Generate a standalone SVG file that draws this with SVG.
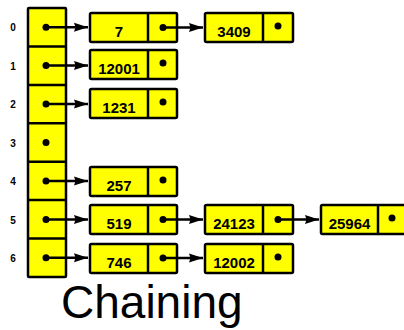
<svg xmlns="http://www.w3.org/2000/svg" width="404" height="330" viewBox="0 0 404 330">
<defs>
<style>
.cell{fill:#ffff00;stroke:#000;stroke-width:2.5}
.div{stroke:#000;stroke-width:2.5}
.dot{fill:#000}
.idx{font-family:"Liberation Sans",Arial,sans-serif;font-weight:bold;font-size:10px;text-anchor:middle;fill:#000}
.val{font-family:"Liberation Sans",Arial,sans-serif;font-weight:bold;font-size:15px;text-anchor:middle;fill:#000}
.link{stroke:#000;stroke-width:2.5;fill:none;marker-end:url(#ah)}
.title{font-family:"Liberation Sans",Arial,sans-serif;font-size:46px;fill:#000}
</style>
<marker id="ah" viewBox="0 0 14 10" refX="14" refY="5" markerWidth="14" markerHeight="10" markerUnits="userSpaceOnUse" orient="auto">
<path d="M0,0.5 L14,5 L0,9.5 L1.5,5 Z" fill="#000"/>
</marker>
</defs>

<g id="array">
<rect class="cell" x="28" y="8" width="38" height="269" rx="1"/>
<line class="div" x1="28" y1="46.4" x2="66" y2="46.4"/>
<line class="div" x1="28" y1="84.9" x2="66" y2="84.9"/>
<line class="div" x1="28" y1="123.3" x2="66" y2="123.3"/>
<line class="div" x1="28" y1="161.7" x2="66" y2="161.7"/>
<line class="div" x1="28" y1="200.1" x2="66" y2="200.1"/>
<line class="div" x1="28" y1="238.6" x2="66" y2="238.6"/>
<circle class="dot" cx="46" cy="27.2" r="3.5"/>
<circle class="dot" cx="46" cy="65.6" r="3.5"/>
<circle class="dot" cx="46" cy="104.1" r="3.5"/>
<circle class="dot" cx="46" cy="142.5" r="3.5"/>
<circle class="dot" cx="46" cy="180.9" r="3.5"/>
<circle class="dot" cx="46" cy="219.4" r="3.5"/>
<circle class="dot" cx="46" cy="257.8" r="3.5"/>
<text class="idx" x="13" y="31">0</text>
<text class="idx" x="13" y="69.5">1</text>
<text class="idx" x="13" y="108">2</text>
<text class="idx" x="13" y="146.5">3</text>
<text class="idx" x="13" y="185">4</text>
<text class="idx" x="13" y="223.5">5</text>
<text class="idx" x="13" y="262">6</text>
</g>

<g id="n0a">
<rect class="cell" x="90" y="13" width="87" height="29" rx="1.5"/>
<line class="div" x1="148" y1="13" x2="148" y2="42"/>
<text class="val" x="119" y="36.5">7</text>
<circle class="dot" cx="163" cy="27.5" r="3.5"/>
</g>
<g id="n0b">
<rect class="cell" x="205" y="13" width="88" height="29" rx="1.5"/>
<line class="div" x1="263" y1="13" x2="263" y2="42"/>
<text class="val" x="234" y="36.5">3409</text>
<circle class="dot" cx="278" cy="26" r="3.5"/>
</g>
<g id="n1a">
<rect class="cell" x="90" y="50" width="87" height="29" rx="1.5"/>
<line class="div" x1="148" y1="50" x2="148" y2="79"/>
<text class="val" x="119" y="73.5">12001</text>
<circle class="dot" cx="163" cy="63" r="3.5"/>
</g>
<g id="n2a">
<rect class="cell" x="90" y="89" width="87" height="29" rx="1.5"/>
<line class="div" x1="148" y1="89" x2="148" y2="118"/>
<text class="val" x="119" y="112.5">1231</text>
<circle class="dot" cx="163" cy="102" r="3.5"/>
</g>
<g id="n4a">
<rect class="cell" x="90" y="167" width="87" height="29" rx="1.5"/>
<line class="div" x1="148" y1="167" x2="148" y2="196"/>
<text class="val" x="119" y="190.5">257</text>
<circle class="dot" cx="163" cy="180" r="3.5"/>
</g>
<g id="n5a">
<rect class="cell" x="90" y="205" width="87" height="29" rx="1.5"/>
<line class="div" x1="148" y1="205" x2="148" y2="234"/>
<text class="val" x="119" y="228.5">519</text>
<circle class="dot" cx="163" cy="219.5" r="3.5"/>
</g>
<g id="n5b">
<rect class="cell" x="205" y="205" width="88" height="29" rx="1.5"/>
<line class="div" x1="263" y1="205" x2="263" y2="234"/>
<text class="val" x="234" y="228.5">24123</text>
<circle class="dot" cx="278" cy="219.5" r="3.5"/>
</g>
<g id="n5c">
<rect class="cell" x="321" y="205" width="87" height="29" rx="1.5"/>
<line class="div" x1="378" y1="205" x2="378" y2="234"/>
<text class="val" x="349.5" y="228.5">25964</text>
<circle class="dot" cx="392" cy="218" r="3.5"/>
</g>
<g id="n6a">
<rect class="cell" x="90" y="244" width="87" height="29" rx="1.5"/>
<line class="div" x1="148" y1="244" x2="148" y2="273"/>
<text class="val" x="119" y="267.5">746</text>
<circle class="dot" cx="163" cy="258" r="3.5"/>
</g>
<g id="n6b">
<rect class="cell" x="205" y="244" width="88" height="29" rx="1.5"/>
<line class="div" x1="263" y1="244" x2="263" y2="273"/>
<text class="val" x="234" y="267.5">12002</text>
<circle class="dot" cx="278" cy="257" r="3.5"/>
</g>

<g id="connectors">
<line class="link" x1="46" y1="27.2" x2="88" y2="27.2"/>
<line class="link" x1="46" y1="65.6" x2="88" y2="65.6"/>
<line class="link" x1="46" y1="104.1" x2="88" y2="104.1"/>
<line class="link" x1="46" y1="180.9" x2="88" y2="180.9"/>
<line class="link" x1="46" y1="219.4" x2="88" y2="219.4"/>
<line class="link" x1="46" y1="257.8" x2="88" y2="257.8"/>
<line class="link" x1="163" y1="27.5" x2="203" y2="27.5"/>
<line class="link" x1="163" y1="219.5" x2="203" y2="219.5"/>
<line class="link" x1="163" y1="258" x2="203" y2="258"/>
<line class="link" x1="278" y1="219.5" x2="319" y2="219.5"/>
</g>

<text class="title" x="61" y="318">Chaining</text>
</svg>
